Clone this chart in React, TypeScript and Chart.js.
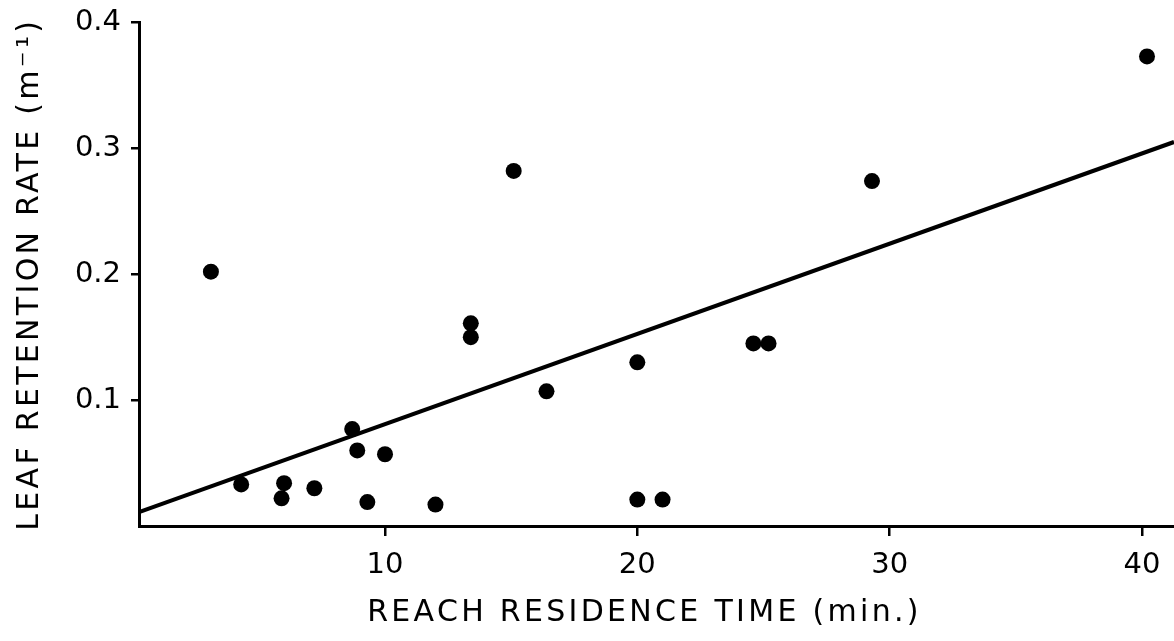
import React, { useEffect, useRef } from "react";
import { Chart, registerables } from "chart.js";

Chart.register(...registerables);

// Data
const residenceTime = [3.1, 4.3, 6.0, 5.9, 7.2, 8.7, 8.9, 10.0, 9.3, 12.0, 13.4, 13.4, 15.1, 16.4, 20.0, 20.0, 21.0, 24.6, 25.2, 29.3, 40.2];
const retentionRate = [0.202, 0.033, 0.034, 0.022, 0.030, 0.077, 0.060, 0.057, 0.019, 0.017, 0.161, 0.150, 0.282, 0.107, 0.130, 0.021, 0.021, 0.145, 0.145, 0.274, 0.373];
const fitX = [0.25, 41.27];
const fitY = [0.011, 0.305];
const xTicks = [10, 20, 30, 40];
const yTicks = [0.1, 0.2, 0.3, 0.4];
const xTitle = "REACH RESIDENCE TIME (min.)";
const yTitle = "LEAF RETENTION RATE (m\u207B\u00B9)";

const FONT = "'DejaVu Sans', sans-serif";

const spacedTitles = {
  id: "spacedTitles",
  beforeDraw(chart: any) {
    Object.entries(chart.scales).forEach(([id, s]: [string, any]) => {
      if (s._spacedPatched) return;
      const orig = s.drawTitle.bind(s);
      s.drawTitle = function () {
        const ctx = chart.ctx;
        ctx.save();
        ctx.letterSpacing = "3.3px";
        if (id === "x") ctx.translate(-12, 0);
        orig();
        ctx.restore();
      };
      s._spacedPatched = true;
    });
  },
};

export default function App() {
  const ref = useRef<HTMLCanvasElement | null>(null);
  useEffect(() => {
    if (!ref.current) return;
    const chart = new Chart(ref.current, {
      type: "scatter",
      data: {
        datasets: [
          {
            type: "scatter",
            data: residenceTime.map((x, i) => ({ x, y: retentionRate[i] })),
            backgroundColor: "#000",
            borderColor: "#000",
            pointRadius: 8,
            pointBorderWidth: 0,
          },
          {
            type: "line",
            data: fitX.map((x, i) => ({ x, y: fitY[i] })),
            borderColor: "#000",
            borderWidth: 4,
            pointRadius: 0,
            fill: false,
          } as any,
        ],
      },
      options: {
        animation: false,
        responsive: false,
        layout: { padding: { top: 18, right: 0, left: 0, bottom: 0 } },
        plugins: { legend: { display: false }, tooltip: { enabled: false } },
        scales: {
          x: {
            type: "linear",
            min: 0.25,
            max: 41.27,
            afterBuildTicks: (s: any) => {
              s.ticks = xTicks.map((v) => ({ value: v }));
            },
            afterFit: (s: any) => {
              s.height = 115;
            },
            ticks: {
              font: { family: FONT, size: 29 },
              color: "#000",
              padding: 12,
              maxRotation: 0,
              autoSkip: false,
              callback: (v: any) => String(v),
            },
            grid: {
              display: true,
              drawOnChartArea: false,
              drawTicks: true,
              tickLength: 10,
              color: "#000",
              lineWidth: 2.5,
            },
            border: { display: true, color: "#000", width: 3 },
            title: {
              display: true,
              text: xTitle,
              color: "#000",
              font: { family: FONT, size: 30 },
              padding: { top: 0, bottom: 10 },
            },
          },
          y: {
            type: "linear",
            min: 0,
            max: 0.4,
            afterBuildTicks: (s: any) => {
              s.ticks = yTicks.map((v) => ({ value: v }));
            },
            afterFit: (s: any) => {
              s.width = 139;
            },
            ticks: {
              font: { family: FONT, size: 29 },
              color: "#000",
              padding: 10,
              autoSkip: false,
              callback: (v: any) => Number(v).toFixed(1),
            },
            grid: {
              display: true,
              drawOnChartArea: false,
              drawTicks: true,
              tickLength: 8,
              color: "#000",
              lineWidth: 2.5,
            },
            border: { display: true, color: "#000", width: 3 },
            title: {
              display: true,
              text: yTitle,
              color: "#000",
              font: { family: FONT, size: 30 },
              padding: { top: 12, bottom: 0 },
            },
          },
        },
      },
      plugins: [spacedTitles],
    });
    return () => chart.destroy();
  }, []);
  return (
    <div
      style={{
        position: "absolute",
        left: 0,
        top: 0,
        width: 1174,
        height: 641,
        overflow: "hidden",
        background: "#fff",
      }}
    >
      <canvas
        ref={ref}
        width={1182}
        height={646}
        style={{ display: "block", position: "absolute", left: 0, top: -5 }}
      />
    </div>
  );
}
